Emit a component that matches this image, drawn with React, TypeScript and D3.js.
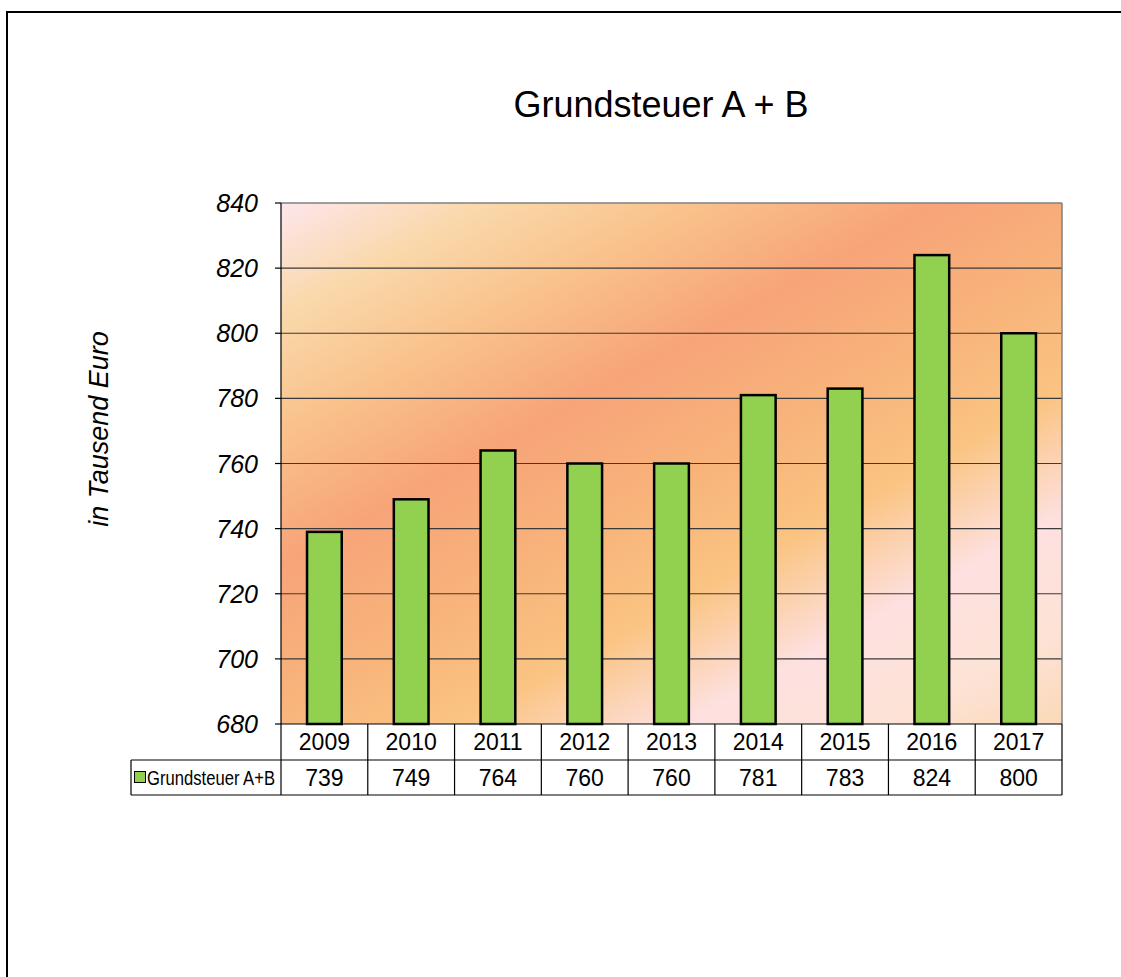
import React from "react";
import * as d3 from "d3";

const years = ["2009", "2010", "2011", "2012", "2013", "2014", "2015", "2016", "2017"];
const values = [739, 749, 764, 760, 760, 781, 783, 824, 800];
const yTicks = [680, 700, 720, 740, 760, 780, 800, 820, 840];
const seriesName = "Grundsteuer A+B";
const titleText = "Grundsteuer A + B";
const yTitle = "in Tausend Euro";

export default function App() {
  const W = 1121, H = 977;
  const left = 281, right = 1062, top = 203, bottom = 724;
  const row1 = 760, row2 = 795, legendLeft = 131;

  const x = d3.scaleBand<string>().domain(years).range([left, right]).paddingInner(0.6).paddingOuter(0.3);
  const xCell = d3.scaleBand<string>().domain(years).range([left, right]).padding(0);
  const y = d3.scaleLinear().domain([680, 840]).range([bottom, top]);

  const font = "Arial, 'Liberation Sans', Helvetica, sans-serif";

  return (
    <svg width={W} height={H} style={{ position: "absolute", left: 0, top: 0, background: "#fff" }}>
      <defs>
        <linearGradient id="bg" gradientUnits="userSpaceOnUse" x1={left} y1={top} x2={682} y2={933}>
          <stop offset="0" stopColor="#fde6ec" />
          <stop offset="0.12" stopColor="#fad8aa" />
          <stop offset="0.25" stopColor="#f9c08a" />
          <stop offset="0.38" stopColor="#f7a479" />
          <stop offset="0.52" stopColor="#f8b37a" />
          <stop offset="0.65" stopColor="#fac482" />
          <stop offset="0.78" stopColor="#fde0e0" />
          <stop offset="0.9" stopColor="#fde3d6" />
          <stop offset="1" stopColor="#fbd9b8" />
        </linearGradient>
      </defs>
      <rect x={7} y={12} width={W + 10} height={H + 10} fill="#fff" stroke="#000" strokeWidth={2} />

      <text x={661} y={117} textAnchor="middle" fontFamily={font} fontSize={36} fill="#000">{titleText}</text>

      <rect x={left} y={top} width={right - left} height={bottom - top} fill="url(#bg)" />

      {yTicks.map((t) => (
        <g key={t}>
          {t !== 680 && t !== 840 && (
            <line x1={left} x2={right} y1={y(t)} y2={y(t)} stroke="#3a3a3a" strokeWidth={1.2} />
          )}
          <line x1={left - 6} x2={left} y1={y(t)} y2={y(t)} stroke="#000" strokeWidth={1.2} />
          <text x={258} y={y(t)} dy="0.36em" textAnchor="end" fontFamily={font} fontStyle="italic" fontSize={25} fill="#000">{t}</text>
        </g>
      ))}
      <line x1={left} x2={right} y1={top} y2={top} stroke="#808080" strokeWidth={1.5} />
      <line x1={right} x2={right} y1={top} y2={bottom} stroke="#808080" strokeWidth={1.5} />
      <line x1={left} x2={left} y1={top} y2={bottom} stroke="#000" strokeWidth={1.2} />

      {years.map((yr, i) => (
        <rect key={yr} x={x(yr)!} y={y(values[i])} width={x.bandwidth()} height={bottom - y(values[i])}
          fill="#92d050" stroke="#000" strokeWidth={2.5} />
      ))}

      <text transform={`translate(108,429) rotate(-90)`} textAnchor="middle" fontFamily={font} fontStyle="italic" fontSize={27} fill="#000">{yTitle}</text>

      {/* data table */}
      <g fontFamily={font} fontSize={23} fill="#000">
        <line x1={left} x2={right} y1={bottom} y2={bottom} stroke="#000" strokeWidth={1.2} />
        <line x1={legendLeft} x2={right} y1={row1} y2={row1} stroke="#000" strokeWidth={1.2} />
        <line x1={legendLeft} x2={right} y1={row2} y2={row2} stroke="#000" strokeWidth={1.2} />
        <line x1={legendLeft} x2={legendLeft} y1={row1} y2={row2} stroke="#000" strokeWidth={1.2} />
        <line x1={left} x2={left} y1={bottom} y2={row2} stroke="#000" strokeWidth={1.2} />
        {years.map((yr, i) => (
          <g key={yr}>
            <line x1={xCell(yr)! + xCell.bandwidth()} x2={xCell(yr)! + xCell.bandwidth()} y1={bottom} y2={row2} stroke="#000" strokeWidth={1.2} />
            <text x={xCell(yr)! + xCell.bandwidth() / 2} y={(bottom + row1) / 2} dy="0.36em" textAnchor="middle">{yr}</text>
            <text x={xCell(yr)! + xCell.bandwidth() / 2} y={(row1 + row2) / 2} dy="0.36em" textAnchor="middle">{values[i]}</text>
          </g>
        ))}
        <rect x={134.5} y={771.5} width={11} height={11} fill="#92d050" stroke="#000" strokeWidth={1} />
        <text x={147} y={(row1 + row2) / 2} dy="0.36em" fontSize={20} textLength={128} lengthAdjust="spacingAndGlyphs">{seriesName}</text>
      </g>
    </svg>
  );
}
